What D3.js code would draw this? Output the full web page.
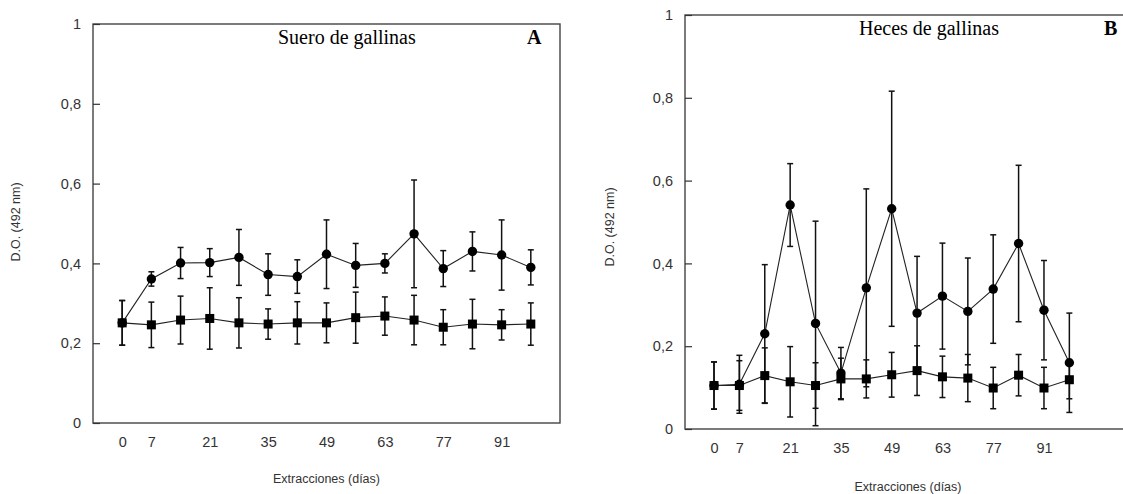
<!DOCTYPE html>
<html>
<head>
<meta charset="utf-8">
<script src="https://cdn.jsdelivr.net/npm/d3@7"></script>
<style>
	body { margin: 0; background: #fff; }
	svg { display: block; }
</style>
</head>
<body>
<svg id="chart" width="1123" height="494"></svg>
<script>
// sampling days and the ones that get a label
const days = [0, 7, 14, 21, 28, 35, 42, 49, 56, 63, 70, 77, 84, 91, 98];
const tickDays = [0, 7, 21, 35, 49, 63, 77, 91];
const yTicks = [0, 0.2, 0.4, 0.6, 0.8, 1];
const yTickLabels = ['0', '0,2', '0,4', '0,6', '0,8', '1'];

// panel A - suero (circles / squares, mean and sd)
const sueroCircle = [0.251, 0.361, 0.401, 0.402, 0.415, 0.372, 0.367, 0.423, 0.395, 0.4, 0.474, 0.387, 0.43, 0.421, 0.39];
const sueroCircleSd = [0.056, 0.018, 0.039, 0.035, 0.07, 0.052, 0.042, 0.086, 0.055, 0.024, 0.135, 0.045, 0.049, 0.088, 0.044];
const sueroSquare = [0.251, 0.246, 0.258, 0.262, 0.251, 0.248, 0.251, 0.251, 0.264, 0.268, 0.258, 0.24, 0.248, 0.246, 0.248];
const sueroSquareSd = [0.056, 0.057, 0.06, 0.077, 0.063, 0.038, 0.053, 0.05, 0.064, 0.048, 0.062, 0.044, 0.062, 0.038, 0.053];

// panel B - heces
const hecesCircle = [0.105, 0.108, 0.23, 0.541, 0.255, 0.135, 0.341, 0.532, 0.28, 0.321, 0.284, 0.338, 0.448, 0.287, 0.16];
const hecesCircleSd = [0.057, 0.07, 0.167, 0.1, 0.247, 0.062, 0.239, 0.284, 0.137, 0.128, 0.129, 0.131, 0.189, 0.12, 0.12];
const hecesSquare = [0.105, 0.105, 0.129, 0.114, 0.105, 0.121, 0.121, 0.131, 0.141, 0.126, 0.123, 0.099, 0.13, 0.099, 0.119];
const hecesSquareSd = [0.057, 0.06, 0.067, 0.085, 0.055, 0.05, 0.046, 0.054, 0.06, 0.05, 0.057, 0.05, 0.05, 0.05, 0.046];

const svg = d3.select('#chart');
const sans = '"Liberation Sans", Arial, sans-serif';

function drawPanel(p) {
	const x = d3.scaleLinear().domain(p.xDomain).range([p.left, p.right]);
	const y = d3.scaleLinear().domain([0, 1]).range([p.bottom, p.top]);
	const g = svg.append('g');

	// frame
	g.append('rect')
		.attr('x', p.left)
		.attr('y', p.top)
		.attr('width', p.right - p.left)
		.attr('height', p.bottom - p.top)
		.attr('fill', 'none')
		.attr('stroke', '#444')
		.attr('stroke-width', 1.4);

	// y axis, ticks pointing in
	g.append('g')
		.attr('transform', `translate(${p.left},0)`)
		.call(
			d3.axisLeft(y)
				.tickValues(yTicks)
				.tickSize(-7)
				.tickPadding(12)
				.tickFormat((d, i) => yTickLabels[i])
		)
		.call((a) => a.select('.domain').remove())
		.call((a) => a.selectAll('.tick line').attr('stroke', '#333').attr('stroke-width', 1.2))
		.call((a) =>
			a.selectAll('.tick text')
				.attr('fill', '#333')
				.style('font', `14.5px ${sans}`)
		);

	// x axis, labels only
	g.append('g')
		.attr('transform', `translate(0,${p.bottom})`)
		.call(d3.axisBottom(x).tickValues(tickDays).tickSize(0).tickPadding(14))
		.call((a) => a.select('.domain').remove())
		.call((a) =>
			a.selectAll('.tick text')
				.attr('fill', '#333')
				.style('font', `14.5px ${sans}`)
		);

	// axis titles
	g.append('text')
		.attr('x', (p.left + p.right) / 2)
		.attr('y', p.xTitleY)
		.attr('text-anchor', 'middle')
		.attr('fill', '#333')
		.style('font', `12.5px ${sans}`)
		.text('Extracciones (días)');

	g.append('text')
		.attr('transform', `translate(${p.yTitleX},${p.yTitleY}) rotate(-90)`)
		.attr('text-anchor', 'middle')
		.attr('dy', '0.35em')
		.attr('fill', '#333')
		.style('font', `12.5px ${sans}`)
		.text('D.O. (492 nm)');

	// panel title and letter
	g.append('text')
		.attr('x', p.titleX)
		.attr('y', p.top + 20)
		.style('font', '20px "Liberation Serif", "Times New Roman", serif')
		.text(p.title);
	g.append('text')
		.attr('x', p.letterX)
		.attr('y', p.top + 20)
		.style('font', 'bold 20px "Liberation Serif", "Times New Roman", serif')
		.text(p.letter);

	const series = [
		{ mean: p.circle, sd: p.circleSd },
		{ mean: p.square, sd: p.squareSd },
	];

	// error bars
	series.forEach((s) => {
		const pts = days.map((d, i) => ({ d, m: s.mean[i], sd: s.sd[i] }));
		const eb = g.append('g').attr('stroke', '#111').attr('stroke-width', 1.5);
		eb.selectAll(null)
			.data(pts)
			.join('line')
			.attr('x1', (d) => x(d.d))
			.attr('x2', (d) => x(d.d))
			.attr('y1', (d) => y(d.m - d.sd))
			.attr('y2', (d) => y(d.m + d.sd));
		[-1, 1].forEach((k) => {
			eb.selectAll(null)
				.data(pts)
				.join('line')
				.attr('x1', (d) => x(d.d) - 3)
				.attr('x2', (d) => x(d.d) + 3)
				.attr('y1', (d) => y(d.m + k * d.sd))
				.attr('y2', (d) => y(d.m + k * d.sd));
		});
	});

	// lines
	const line = d3.line().x((d, i) => x(days[i])).y((d) => y(d));
	series.forEach((s) => {
		g.append('path')
			.attr('d', line(s.mean))
			.attr('fill', 'none')
			.attr('stroke', '#222')
			.attr('stroke-width', 1.1);
	});

	// markers
	g.append('g')
		.selectAll('circle')
		.data(p.circle)
		.join('circle')
		.attr('cx', (d, i) => x(days[i]))
		.attr('cy', (d) => y(d))
		.attr('r', 4.7)
		.attr('fill', '#000');

	const sq = 9;
	g.append('g')
		.selectAll('rect')
		.data(p.square)
		.join('rect')
		.attr('x', (d, i) => x(days[i]) - sq / 2)
		.attr('y', (d) => y(d) - sq / 2)
		.attr('width', sq)
		.attr('height', sq)
		.attr('fill', '#000');
}

drawPanel({
	left: 93, right: 560, top: 24, bottom: 423,
	xDomain: [-7, 105],
	title: 'Suero de gallinas', titleX: 278,
	letter: 'A', letterX: 527,
	xTitleY: 483, yTitleX: 16, yTitleY: 222,
	circle: sueroCircle, circleSd: sueroCircleSd,
	square: sueroSquare, squareSd: sueroSquareSd,
});

drawPanel({
	left: 685, right: 1131, top: 15, bottom: 429,
	xDomain: [-8, 115],
	title: 'Heces de gallinas', titleX: 859,
	letter: 'B', letterX: 1104,
	xTitleY: 491, yTitleX: 610, yTitleY: 227,
	circle: hecesCircle, circleSd: hecesCircleSd,
	square: hecesSquare, squareSd: hecesSquareSd,
});
</script>
</body>
</html>
